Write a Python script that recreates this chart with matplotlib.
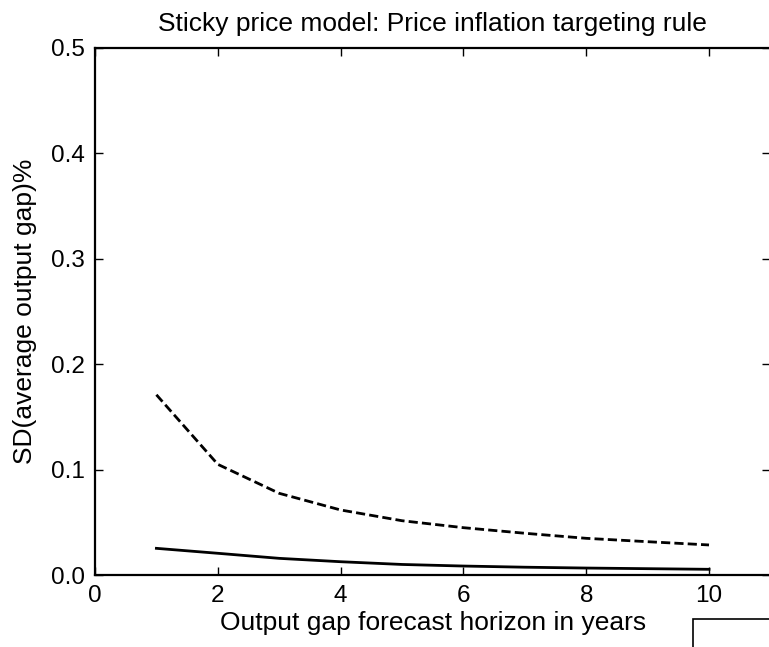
import matplotlib
matplotlib.use('Agg')
import matplotlib.pyplot as plt
from matplotlib.patches import Rectangle

plt.rcParams['font.family'] = ['Liberation Sans', 'DejaVu Sans']

horizon = [1, 2, 3, 4, 5, 6, 7, 8, 9, 10]
sd_dashed = [0.171, 0.105, 0.0775, 0.0617, 0.0515, 0.0449, 0.0396, 0.0348, 0.0316, 0.0285]
sd_solid = [0.0253, 0.0206, 0.0158, 0.0126, 0.0100, 0.0085, 0.0074, 0.0066, 0.0060, 0.0054]

fig = plt.figure(figsize=(7.69, 6.47), dpi=100)
ax = fig.add_axes([95 / 769, 1 - 575 / 647, 675.4 / 769, 527 / 647])

ax.plot(horizon, sd_solid, color='black', lw=2, ls='-')
ax.plot(horizon, sd_dashed, color='black', lw=2, ls=(0, (3.3, 1.5)))

ax.set_xlim(0, 11)
ax.set_ylim(0, 0.5)
ax.set_xticks([0, 2, 4, 6, 8, 10])
ax.set_yticks([0.0, 0.1, 0.2, 0.3, 0.4, 0.5])
ax.set_yticklabels(['0.0', '0.1', '0.2', '0.3', '0.4', '0.5'])
ax.tick_params(direction='in', length=6, width=1, top=True, right=True,
               labelsize=17.5, pad=7.5)
for sp in ax.spines.values():
    sp.set_linewidth(1.6)

ax.set_title('Sticky price model: Price inflation targeting rule', fontsize=19, pad=12)
ax.set_xlabel('Output gap forecast horizon in years', fontsize=19, labelpad=2.5)
ax.set_ylabel('SD(average output gap)%', fontsize=19, labelpad=10)

# partially visible legend box at bottom right
fig.patches.append(Rectangle((693 / 769, -0.1), 0.2, 0.1 + 28 / 647,
                             transform=fig.transFigure, facecolor='white',
                             edgecolor='black', lw=1.2))

fig.savefig('out.png', dpi=100)
